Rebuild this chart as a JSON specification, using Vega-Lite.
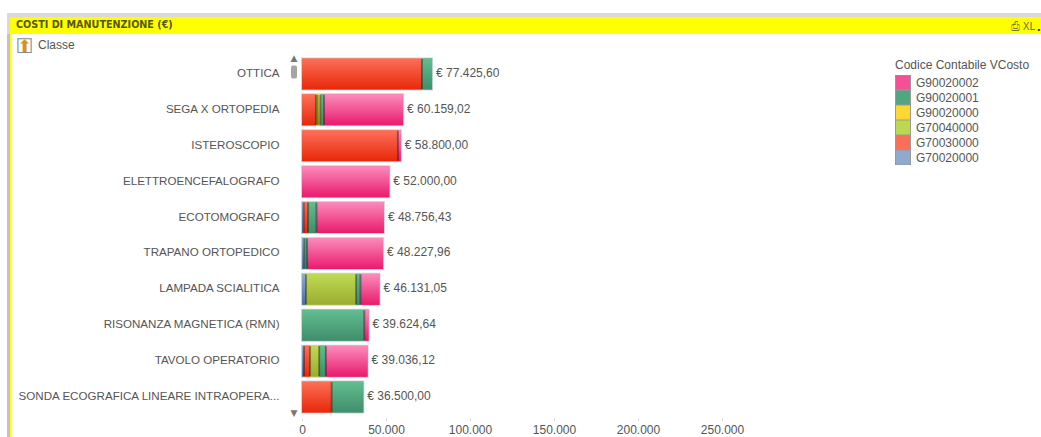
{
  "$schema": "https://vega.github.io/schema/vega-lite/v6.json",
  "background": "white",
  "padding": {"left": 5, "top": 11, "right": 0, "bottom": 0},
  "bounds": "flush",
  "spacing": 0,
  "config": {"view": {"stroke": null}, "font": "Liberation Sans"},
  "datasets": {
    "costi": [
      {"Classe": "OTTICA", "Codice": "G70030000", "Costo": 71400},
      {"Classe": "OTTICA", "Codice": "G90020001", "Costo": 6025.6},
      {"Classe": "SEGA X ORTOPEDIA", "Codice": "G70030000", "Costo": 8300},
      {"Classe": "SEGA X ORTOPEDIA", "Codice": "G70040000", "Costo": 1000},
      {"Classe": "SEGA X ORTOPEDIA", "Codice": "G90020000", "Costo": 1600},
      {"Classe": "SEGA X ORTOPEDIA", "Codice": "G90020001", "Costo": 2200},
      {"Classe": "SEGA X ORTOPEDIA", "Codice": "G90020002", "Costo": 47059.02},
      {"Classe": "ISTEROSCOPIO", "Codice": "G70030000", "Costo": 57100},
      {"Classe": "ISTEROSCOPIO", "Codice": "G90020002", "Costo": 1700},
      {"Classe": "ELETTROENCEFALOGRAFO", "Codice": "G90020002", "Costo": 52000},
      {"Classe": "ECOTOMOGRAFO", "Codice": "G70020000", "Costo": 1000},
      {"Classe": "ECOTOMOGRAFO", "Codice": "G70030000", "Costo": 2600},
      {"Classe": "ECOTOMOGRAFO", "Codice": "G90020001", "Costo": 5000},
      {"Classe": "ECOTOMOGRAFO", "Codice": "G90020002", "Costo": 40156.43},
      {"Classe": "TRAPANO ORTOPEDICO", "Codice": "G70020000", "Costo": 1400},
      {"Classe": "TRAPANO ORTOPEDICO", "Codice": "G90020001", "Costo": 1600},
      {"Classe": "TRAPANO ORTOPEDICO", "Codice": "G90020002", "Costo": 45227.96},
      {"Classe": "LAMPADA SCIALITICA", "Codice": "G70020000", "Costo": 2400},
      {"Classe": "LAMPADA SCIALITICA", "Codice": "G70040000", "Costo": 29800},
      {"Classe": "LAMPADA SCIALITICA", "Codice": "G90020001", "Costo": 2600},
      {"Classe": "LAMPADA SCIALITICA", "Codice": "G90020002", "Costo": 11331.05},
      {"Classe": "RISONANZA MAGNETICA (RMN)", "Codice": "G90020001", "Costo": 37100},
      {"Classe": "RISONANZA MAGNETICA (RMN)", "Codice": "G90020002", "Costo": 2524.64},
      {"Classe": "TAVOLO OPERATORIO", "Codice": "G70020000", "Costo": 1200},
      {"Classe": "TAVOLO OPERATORIO", "Codice": "G70030000", "Costo": 3600},
      {"Classe": "TAVOLO OPERATORIO", "Codice": "G70040000", "Costo": 5400},
      {"Classe": "TAVOLO OPERATORIO", "Codice": "G90020001", "Costo": 4000},
      {"Classe": "TAVOLO OPERATORIO", "Codice": "G90020002", "Costo": 24836.12},
      {"Classe": "SONDA ECOGRAFICA LINEARE INTRAOPERA...", "Codice": "G70030000", "Costo": 17650},
      {"Classe": "SONDA ECOGRAFICA LINEARE INTRAOPERA...", "Codice": "G90020001", "Costo": 18850}
    ],
    "totali": [
      {"Classe": "OTTICA", "Totale": 77425.6, "Etichetta": "€ 77.425,60"},
      {"Classe": "SEGA X ORTOPEDIA", "Totale": 60159.02, "Etichetta": "€ 60.159,02"},
      {"Classe": "ISTEROSCOPIO", "Totale": 58800, "Etichetta": "€ 58.800,00"},
      {"Classe": "ELETTROENCEFALOGRAFO", "Totale": 52000, "Etichetta": "€ 52.000,00"},
      {"Classe": "ECOTOMOGRAFO", "Totale": 48756.43, "Etichetta": "€ 48.756,43"},
      {"Classe": "TRAPANO ORTOPEDICO", "Totale": 48227.96, "Etichetta": "€ 48.227,96"},
      {"Classe": "LAMPADA SCIALITICA", "Totale": 46131.05, "Etichetta": "€ 46.131,05"},
      {"Classe": "RISONANZA MAGNETICA (RMN)", "Totale": 39624.64, "Etichetta": "€ 39.624,64"},
      {"Classe": "TAVOLO OPERATORIO", "Totale": 39036.12, "Etichetta": "€ 39.036,12"},
      {"Classe": "SONDA ECOGRAFICA LINEARE INTRAOPERA...", "Totale": 36500, "Etichetta": "€ 36.500,00"}
    ]
  },
  "vconcat": [
    {
      "width": 1034,
      "height": 21,
      "view": {"fill": "#ffff00", "stroke": null},
      "title": {
        "text": "COSTI DI MANUTENZIONE (€)",
        "anchor": "start",
        "frame": "group",
        "offset": -19,
        "dx": 9,
        "font": "DejaVu Sans Condensed",
        "fontSize": 10.7,
        "fontWeight": "bold",
        "color": "#55551a"
      },
      "layer": [
        {
          "data": {"values": [{}]},
          "mark": {"type": "rule", "color": "#dcd8d8", "strokeWidth": 4},
          "encoding": {"y": {"value": 2}}
        },
        {
          "data": {"values": [{}]},
          "mark": {"type": "rule", "color": "#dcd8d8", "strokeWidth": 3},
          "encoding": {"x": {"value": 1.5}}
        },
        {
          "data": {"values": [{"Testo": "⎙ XL"}]},
          "mark": {"type": "text", "align": "right", "baseline": "bottom", "dx": -6, "dy": -2, "font": "DejaVu Sans Condensed", "fontSize": 11, "color": "#77771f"},
          "encoding": {
            "x": {"value": "width"},
            "y": {"value": "height"},
            "text": {"field": "Testo"}
          }
        },
        {
          "data": {"values": [{"Testo": "."}]},
          "mark": {"type": "text", "align": "right", "baseline": "bottom", "dy": -1, "font": "DejaVu Sans", "fontWeight": "bold", "fontSize": 11, "color": "#333333"},
          "encoding": {
            "x": {"value": "width"},
            "y": {"value": "height"},
            "text": {"field": "Testo"}
          }
        }
      ]
    },
    {
      "width": 1034,
      "height": 403,
      "title": {
        "text": "Classe",
        "anchor": "start",
        "frame": "group",
        "offset": -19,
        "dx": 31,
        "fontSize": 12,
        "fontWeight": "normal",
        "color": "#555555"
      },
      "layer": [
        {
          "data": {"values": [{}]},
          "mark": {"type": "rule", "color": "#c9c1c1", "strokeWidth": 3},
          "encoding": {"x": {"datum": -174702}}
        },
        {
          "data": {"values": [{}]},
          "mark": {"type": "rule", "color": "#ffff00", "strokeWidth": 1.5},
          "encoding": {"x": {"datum": -173363}}
        },
        {
          "data": {"name": "totali"},
          "mark": {"type": "bar", "fillOpacity": 0, "stroke": "#d4d4d4", "strokeWidth": 2},
          "encoding": {
            "x": {"field": "Totale", "type": "quantitative"},
            "y": {"field": "Classe", "type": "nominal", "sort": null}
          }
        },
        {
          "data": {"name": "costi"},
          "transform": [
            {"stack": "Costo", "groupby": ["Classe"], "sort": [{"field": "Codice", "order": "ascending"}], "as": ["Inizio", "Fine"]}
          ],
          "mark": {"type": "bar"},
          "encoding": {
            "x": {
              "field": "Inizio",
              "type": "quantitative",
              "scale": {"domain": [-175595, 439881], "nice": false, "zero": false},
              "axis": {
                "title": "☐",
                "titleX": 17,
                "titleY": -372,
                "titleAngle": 0,
                "titleFontSize": 20,
                "titleFontWeight": "normal",
                "titleFont": "DejaVu Sans",
                "titleColor": "#8a8a8a",
                "titleBaseline": "middle",
                "titleAlign": "center",
                "offset": -19,
                "values": [0, 50000, 100000, 150000, 200000, 250000],
                "labelExpr": "replace(format(datum.value, ',d'), /,/g, '.')",
                "labelFontSize": 12,
                "labelColor": "#555555",
                "labelPadding": 4,
                "tickSize": 2,
                "tickColor": "#cccccc",
                "domain": false,
                "grid": false
              }
            },
            "x2": {"field": "Fine"},
            "y": {
              "field": "Classe",
              "type": "nominal",
              "sort": null,
              "scale": {
                "domain": ["OTTICA", "SEGA X ORTOPEDIA", "ISTEROSCOPIO", "ELETTROENCEFALOGRAFO", "ECOTOMOGRAFO", "TRAPANO ORTOPEDICO", "LAMPADA SCIALITICA", "RISONANZA MAGNETICA (RMN)", "TAVOLO OPERATORIO", "SONDA ECOGRAFICA LINEARE INTRAOPERA..."],
                "range": [22, 381],
                "paddingInner": 0.136,
                "paddingOuter": 0.068
              },
              "axis": {
                "title": "⬆",
                "titleX": 17,
                "titleY": 12,
                "titleAngle": 0,
                "titleFontSize": 17,
                "titleFontWeight": "normal",
                "titleFont": "DejaVu Sans",
                "titleColor": "#d8921a",
                "titleBaseline": "middle",
                "titleAlign": "center",
                "labelPadding": -272,
                "labelFontSize": 11.6,
                "labelColor": "#555555",
                "labelLimit": 300,
                "ticks": false,
                "domain": false,
                "grid": false
              }
            },
            "color": {
              "field": "Codice",
              "type": "nominal",
              "scale": {
                "domain": ["G90020002", "G90020001", "G90020000", "G70040000", "G70030000", "G70020000"],
                "range": ["#f54f95", "#50a67e", "#ffd733", "#bcd850", "#fd6e5a", "#8eaacc"]
              },
              "legend": {
                "orient": "none",
                "legendX": 888,
                "legendY": 47,
                "title": "Codice Contabile VCosto",
                "titleFontSize": 12,
                "titleFontWeight": "normal",
                "titleColor": "#555555",
                "titleLimit": 200,
                "titlePadding": 3,
                "labelFontSize": 12,
                "labelColor": "#555555",
                "symbolType": "square",
                "symbolSize": 225,
                "symbolStrokeWidth": 1,
                "symbolStrokeColor": "#999999",
                "rowPadding": 0,
                "clipHeight": 15,
                "labelOffset": 5
              }
            }
          }
        },
        {
          "data": {"name": "costi"},
          "transform": [
            {"stack": "Costo", "groupby": ["Classe"], "sort": [{"field": "Codice", "order": "ascending"}], "as": ["Inizio", "Fine"]},
            {"filter": "datum.Codice === 'G90020002'"}
          ],
          "mark": {"type": "bar", "color": {"gradient": "linear", "x1": 0, "y1": 0, "x2": 0, "y2": 1, "stops": [{"offset": 0, "color": "#fb8cbc"}, {"offset": 1, "color": "#ea1a6c"}]}},
          "encoding": {
            "x": {"field": "Inizio", "type": "quantitative"},
            "x2": {"field": "Fine"},
            "y": {"field": "Classe", "type": "nominal", "sort": null}
          }
        },
        {
          "data": {"name": "costi"},
          "transform": [
            {"stack": "Costo", "groupby": ["Classe"], "sort": [{"field": "Codice", "order": "ascending"}], "as": ["Inizio", "Fine"]},
            {"filter": "datum.Codice === 'G90020001'"}
          ],
          "mark": {"type": "bar", "color": {"gradient": "linear", "x1": 0, "y1": 0, "x2": 0, "y2": 1, "stops": [{"offset": 0, "color": "#62be90"}, {"offset": 1, "color": "#3f8d6c"}]}},
          "encoding": {
            "x": {"field": "Inizio", "type": "quantitative"},
            "x2": {"field": "Fine"},
            "y": {"field": "Classe", "type": "nominal", "sort": null}
          }
        },
        {
          "data": {"name": "costi"},
          "transform": [
            {"stack": "Costo", "groupby": ["Classe"], "sort": [{"field": "Codice", "order": "ascending"}], "as": ["Inizio", "Fine"]},
            {"filter": "datum.Codice === 'G90020000'"}
          ],
          "mark": {"type": "bar", "color": {"gradient": "linear", "x1": 0, "y1": 0, "x2": 0, "y2": 1, "stops": [{"offset": 0, "color": "#ffdc40"}, {"offset": 1, "color": "#d0a010"}]}},
          "encoding": {
            "x": {"field": "Inizio", "type": "quantitative"},
            "x2": {"field": "Fine"},
            "y": {"field": "Classe", "type": "nominal", "sort": null}
          }
        },
        {
          "data": {"name": "costi"},
          "transform": [
            {"stack": "Costo", "groupby": ["Classe"], "sort": [{"field": "Codice", "order": "ascending"}], "as": ["Inizio", "Fine"]},
            {"filter": "datum.Codice === 'G70040000'"}
          ],
          "mark": {"type": "bar", "color": {"gradient": "linear", "x1": 0, "y1": 0, "x2": 0, "y2": 1, "stops": [{"offset": 0, "color": "#bfdb54"}, {"offset": 1, "color": "#9aac30"}]}},
          "encoding": {
            "x": {"field": "Inizio", "type": "quantitative"},
            "x2": {"field": "Fine"},
            "y": {"field": "Classe", "type": "nominal", "sort": null}
          }
        },
        {
          "data": {"name": "costi"},
          "transform": [
            {"stack": "Costo", "groupby": ["Classe"], "sort": [{"field": "Codice", "order": "ascending"}], "as": ["Inizio", "Fine"]},
            {"filter": "datum.Codice === 'G70030000'"}
          ],
          "mark": {"type": "bar", "color": {"gradient": "linear", "x1": 0, "y1": 0, "x2": 0, "y2": 1, "stops": [{"offset": 0, "color": "#fc7058"}, {"offset": 1, "color": "#e8280a"}]}},
          "encoding": {
            "x": {"field": "Inizio", "type": "quantitative"},
            "x2": {"field": "Fine"},
            "y": {"field": "Classe", "type": "nominal", "sort": null}
          }
        },
        {
          "data": {"name": "costi"},
          "transform": [
            {"stack": "Costo", "groupby": ["Classe"], "sort": [{"field": "Codice", "order": "ascending"}], "as": ["Inizio", "Fine"]},
            {"filter": "datum.Codice === 'G70020000'"}
          ],
          "mark": {"type": "bar", "color": {"gradient": "linear", "x1": 0, "y1": 0, "x2": 0, "y2": 1, "stops": [{"offset": 0, "color": "#90accf"}, {"offset": 1, "color": "#4a6ea8"}]}},
          "encoding": {
            "x": {"field": "Inizio", "type": "quantitative"},
            "x2": {"field": "Fine"},
            "y": {"field": "Classe", "type": "nominal", "sort": null}
          }
        },
        {
          "data": {"name": "costi"},
          "transform": [
            {"stack": "Costo", "groupby": ["Classe"], "sort": [{"field": "Codice", "order": "ascending"}], "as": ["Inizio", "Fine"]},
            {"joinaggregate": [{"op": "max", "field": "Fine", "as": "Massimo"}], "groupby": ["Classe"]},
            {"filter": "datum.Fine < datum.Massimo"}
          ],
          "mark": {"type": "tick", "orient": "vertical", "size": 30, "thickness": 2, "color": "#000000", "opacity": 0.35},
          "encoding": {
            "x": {"field": "Fine", "type": "quantitative"},
            "y": {"field": "Classe", "type": "nominal", "sort": null}
          }
        },
        {
          "data": {"name": "totali"},
          "mark": {"type": "text", "align": "left", "baseline": "middle", "dx": 4, "dy": -1, "fontSize": 12, "color": "#555555"},
          "encoding": {
            "x": {"field": "Totale", "type": "quantitative"},
            "y": {"field": "Classe", "type": "nominal", "sort": null},
            "text": {"field": "Etichetta"}
          }
        },
        {
          "data": {"values": [{"Classe": "OTTICA"}]},
          "mark": {"type": "tick", "orient": "vertical", "size": 13, "thickness": 6, "color": "#7f7f7f", "cornerRadius": 2, "yOffset": -2},
          "encoding": {
            "x": {"datum": -4760},
            "y": {"field": "Classe", "type": "nominal", "sort": null}
          }
        },
        {
          "data": {"values": [{"Classe": "OTTICA", "Freccia": "▲"}]},
          "mark": {"type": "text", "fontSize": 9, "dy": -16, "color": "#777777", "font": "DejaVu Sans"},
          "encoding": {
            "x": {"datum": -4760},
            "y": {"field": "Classe", "type": "nominal", "sort": null},
            "text": {"field": "Freccia"}
          }
        },
        {
          "data": {"values": [{"Classe": "SONDA ECOGRAFICA LINEARE INTRAOPERA...", "Freccia": "▼"}]},
          "mark": {"type": "text", "fontSize": 9, "dy": 16, "color": "#777777", "font": "DejaVu Sans"},
          "encoding": {
            "x": {"datum": -4760},
            "y": {"field": "Classe", "type": "nominal", "sort": null},
            "text": {"field": "Freccia"}
          }
        }
      ]
    }
  ]
}
